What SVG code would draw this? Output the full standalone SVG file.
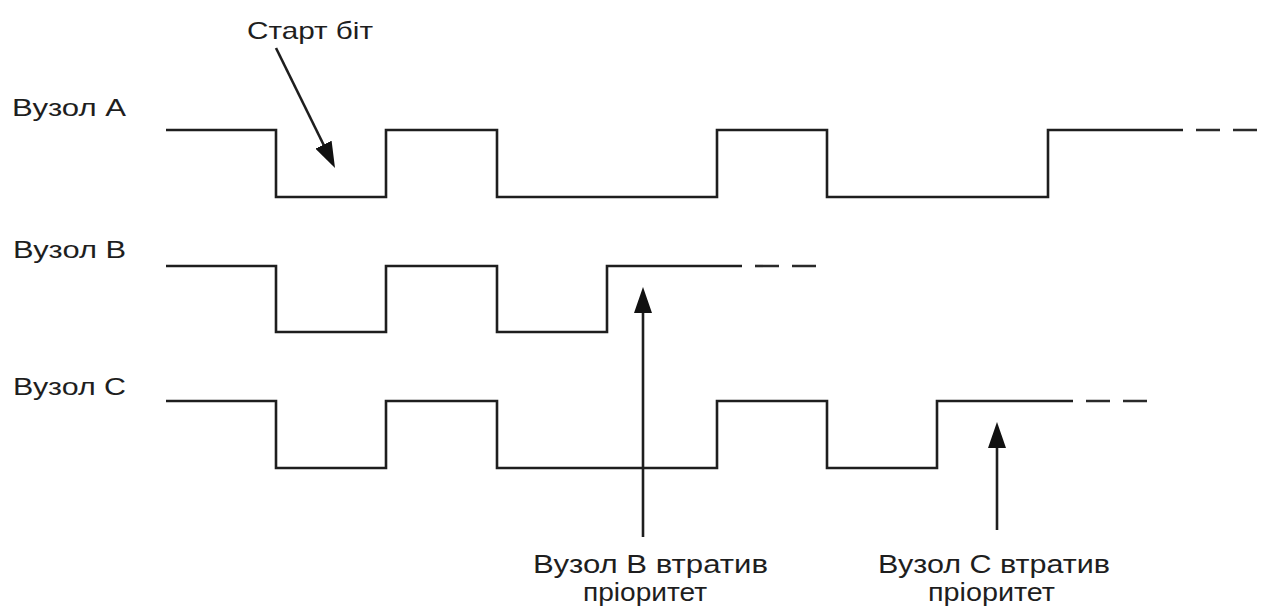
<svg xmlns="http://www.w3.org/2000/svg" width="1261" height="612" viewBox="0 0 1261 612">
  <style>
    .sig { fill: none; stroke: #1e1e1e; stroke-width: 2.6; stroke-linejoin: miter; }
    .dash { fill: none; stroke: #2a2a2a; stroke-width: 2.6; stroke-dasharray: 24 13; }
    .ptr { fill: none; stroke: #1e1e1e; stroke-width: 2.6; }
    .lbl { font-family: "Liberation Sans", Arial, sans-serif; font-size: 24px; fill: #1e1e1e; }
    .note { font-family: "Liberation Sans", Arial, sans-serif; font-size: 26px; fill: #1e1e1e; }
  </style>
  <defs>
    <marker id="head" viewBox="0 0 26 18" markerWidth="26" markerHeight="18" refX="16" refY="9" orient="auto" markerUnits="userSpaceOnUse">
      <path d="M0,0 L26,9 L0,18 Z" fill="#111"/>
    </marker>
  </defs>

  <!-- Node A waveform -->
  <g id="node-a">
    <text class="lbl" x="12" y="116" textLength="114" lengthAdjust="spacingAndGlyphs">Вузол А</text>
    <path class="sig" d="M166,130 H276 V197 H386 V130 H497 V197 H717 V130 H827 V197 H1048 V130 H1183"/>
    <path class="dash" d="M1196,130 H1258"/>
  </g>

  <!-- Node B waveform -->
  <g id="node-b">
    <text class="lbl" x="13" y="258" textLength="113" lengthAdjust="spacingAndGlyphs">Вузол В</text>
    <path class="sig" d="M166,266 H276 V332 H386 V266 H497 V332 H607 V266 H742"/>
    <path class="dash" d="M755,266 H818"/>
  </g>

  <!-- Node C waveform -->
  <g id="node-c">
    <text class="lbl" x="13" y="395" textLength="113" lengthAdjust="spacingAndGlyphs">Вузол С</text>
    <path class="sig" d="M166,401 H276 V468 H386 V401 H497 V468 H717 V401 H827 V468 H937 V401 H1073"/>
    <path class="dash" d="M1086,401 H1148"/>
  </g>

  <!-- Annotations -->
  <g id="start-bit">
    <text class="lbl" x="247" y="39" textLength="126" lengthAdjust="spacingAndGlyphs">Старт біт</text>
  </g>
  <g id="b-lost">
    <text class="note" x="533" y="573" textLength="235" lengthAdjust="spacingAndGlyphs">Вузол В втратив</text>
    <text class="note" x="583" y="601" textLength="124" lengthAdjust="spacingAndGlyphs">пріоритет</text>
  </g>
  <g id="c-lost">
    <text class="note" x="878" y="573" textLength="232" lengthAdjust="spacingAndGlyphs">Вузол С втратив</text>
    <text class="note" x="928" y="601" textLength="127" lengthAdjust="spacingAndGlyphs">пріоритет</text>
  </g>

  <!-- Pointer arrows -->
  <g id="connectors">
    <line class="ptr" x1="276" y1="48" x2="330.6" y2="159" marker-end="url(#head)"/>
    <line class="ptr" x1="643" y1="537" x2="643" y2="297" marker-end="url(#head)"/>
    <line class="ptr" x1="997" y1="530" x2="997" y2="432" marker-end="url(#head)"/>
  </g>
</svg>
